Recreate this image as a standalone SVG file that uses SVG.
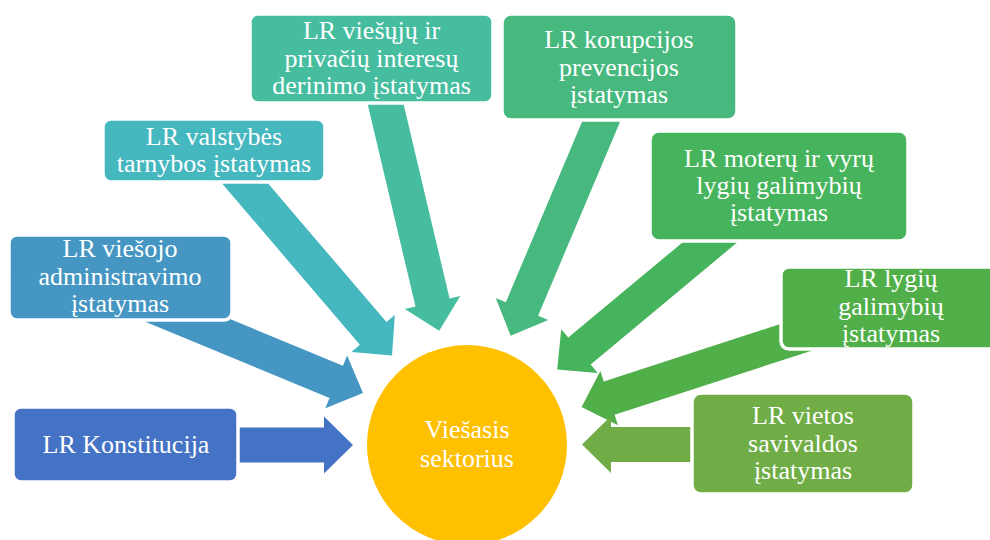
<svg xmlns="http://www.w3.org/2000/svg" xmlns:xlink="http://www.w3.org/1999/xlink" width="990" height="540" viewBox="0 0 990 540">
  <style>
    .box { stroke: #ffffff; stroke-width: 3.5; }
    .lbl { font-family: "Liberation Serif", "Times New Roman", serif; font-size: 26px; fill: #ffffff; text-anchor: middle; }
  </style>
  <defs>
    <!-- block arrow, tip at origin, pointing along +x -->
    <path id="arrow" d="M-250,-17.5 H-29 V-28.5 L0,0 L-29,28.5 V17.5 H-250 Z"/>
  </defs>
  <rect width="990" height="540" fill="#ffffff"/>

  <!-- connectors: drawn first so that the boxes cover their tails -->
  <g id="connectors">
    <use xlink:href="#arrow" href="#arrow" fill="#4472C4" transform="translate(353,445)"/>
    <use xlink:href="#arrow" href="#arrow" fill="#4596C2" transform="translate(363,393) rotate(22.5)"/>
    <use xlink:href="#arrow" href="#arrow" fill="#45B7BF" transform="translate(392,355.5) rotate(49.5)"/>
    <use xlink:href="#arrow" href="#arrow" fill="#46BD9F" transform="translate(439.2,330.7) rotate(76.7)"/>
    <use xlink:href="#arrow" href="#arrow" fill="#47B97F" transform="translate(510.7,335.7) rotate(112.9)"/>
    <use xlink:href="#arrow" href="#arrow" fill="#46B45C" transform="translate(557.2,369.6) rotate(140.2)"/>
    <use xlink:href="#arrow" href="#arrow" fill="#50AF48" transform="translate(581.6,407) rotate(162)"/>
    <use xlink:href="#arrow" href="#arrow" fill="#70AD47" transform="translate(582,444.5) rotate(180)"/>
  </g>

  <g id="center">
    <circle cx="467" cy="445" r="100" fill="#FFC000"/>
    <text class="lbl" x="467" y="438">Viešasis</text>
    <text class="lbl" x="467" y="467">sektorius</text>
  </g>

  <g id="konstitucija">
    <rect class="box" x="13" y="407" width="225" height="75" rx="8" fill="#4472C4"/>
    <text class="lbl" x="126" y="453">LR Konstitucija</text>
  </g>

  <g id="viesojo-administravimo">
    <rect class="box" x="9" y="235" width="223" height="85" rx="8" fill="#4596C2"/>
    <text class="lbl" x="120" y="257">LR viešojo</text>
    <text class="lbl" x="120" y="285">administravimo</text>
    <text class="lbl" x="120" y="312">įstatymas</text>
  </g>

  <g id="valstybes-tarnybos">
    <rect class="box" x="103" y="119" width="222" height="63" rx="8" fill="#45B7BF"/>
    <text class="lbl" x="214" y="145">LR valstybės</text>
    <text class="lbl" x="214" y="172">tarnybos įstatymas</text>
  </g>

  <g id="interesu-derinimo">
    <rect class="box" x="250" y="14" width="243" height="89" rx="8" fill="#46BD9F"/>
    <text class="lbl" x="371.5" y="39">LR viešųjų ir</text>
    <text class="lbl" x="371.5" y="67">privačių interesų</text>
    <text class="lbl" x="371.5" y="94">derinimo įstatymas</text>
  </g>

  <g id="korupcijos-prevencijos">
    <rect class="box" x="502" y="14" width="235" height="106" rx="9" fill="#47B97F"/>
    <text class="lbl" x="619" y="48">LR korupcijos</text>
    <text class="lbl" x="619" y="76">prevencijos</text>
    <text class="lbl" x="619" y="103">įstatymas</text>
  </g>

  <g id="moteru-ir-vyru">
    <rect class="box" x="650" y="131" width="258" height="110" rx="9" fill="#46B45C"/>
    <text class="lbl" x="779" y="167">LR moterų ir vyrų</text>
    <text class="lbl" x="779" y="194">lygių galimybių</text>
    <text class="lbl" x="779" y="221">įstatymas</text>
  </g>

  <g id="lygiu-galimybiu">
    <rect class="box" x="781" y="267" width="230" height="82" rx="8" fill="#50AF48"/>
    <text class="lbl" x="891" y="287">LR lygių</text>
    <text class="lbl" x="891" y="315">galimybių</text>
    <text class="lbl" x="891" y="342">įstatymas</text>
  </g>

  <g id="vietos-savivaldos">
    <rect class="box" x="692" y="393" width="222" height="101" rx="9" fill="#70AD47"/>
    <text class="lbl" x="803" y="424">LR vietos</text>
    <text class="lbl" x="803" y="452">savivaldos</text>
    <text class="lbl" x="803" y="479">įstatymas</text>
  </g>
</svg>
